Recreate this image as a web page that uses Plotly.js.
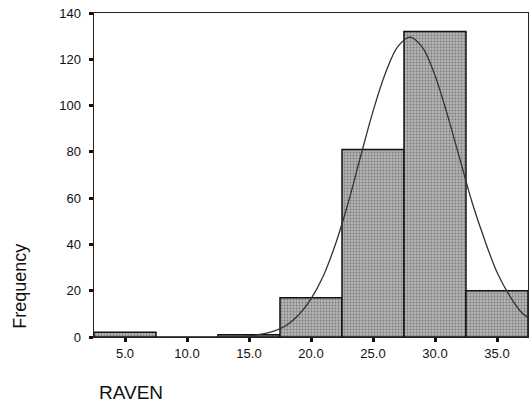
<!DOCTYPE html>
<html>
<head>
<meta charset="utf-8">
<script src="https://cdn.plot.ly/plotly-3.0.1.min.js"></script>
<style>html,body{margin:0;padding:0;background:#fff;}#chart{width:529px;height:404px;}</style>
</head>
<body>
<div id="chart"></div>
<script>
// Histogram bins (centers) and frequencies
var binCenters = [5, 10, 15, 20, 25, 30, 35];
var frequencies = [2, 0, 1, 17, 81, 132, 20];
// Normal curve
var curveX = [12.5, 13, 14, 15, 16, 17, 18, 19, 20, 21, 22, 23, 24, 25, 26, 27, 28, 29, 30, 31, 32, 33, 34, 35, 36, 37, 37.5];
var curveY = [0, 0.1, 0.2, 0.5, 1.2, 2.5, 5, 9.5, 16.5, 26.5, 40.5, 58, 78, 97.5, 114, 125.5, 129.6, 125, 113, 96, 77, 58, 42, 28, 18, 10.5, 8.5];
var xTicks = [5, 10, 15, 20, 25, 30, 35];
var xTickText = ["5.0", "10.0", "15.0", "20.0", "25.0", "30.0", "35.0"];
var yTicks = [0, 20, 40, 60, 80, 100, 120, 140];

var bars = {
  type: 'bar', x: binCenters, y: frequencies, width: 5,
  marker: {color: '#a6a6a6', line: {color: '#111', width: 1.5},
           pattern: {shape: '.', fgcolor: '#7a7a7a', bgcolor: '#b4b4b4', size: 3, solidity: 0.3}},
  hoverinfo: 'skip'
};
var curve = {
  type: 'scatter', mode: 'lines', x: curveX, y: curveY,
  line: {color: '#333', width: 1.3, shape: 'spline'}, hoverinfo: 'skip'
};
var FAM = 'Liberation Sans, Arial, sans-serif';
var layout = {
  width: 529, height: 404,
  margin: {l: 94, r: 1, t: 13, b: 67},
  paper_bgcolor: '#fff', plot_bgcolor: '#fff',
  showlegend: false, bargap: 0,
  font: {family: FAM, color: '#111'},
  xaxis: {
    range: [2.5, 37.5], tickvals: xTicks, ticktext: xTickText,
    ticks: 'outside', ticklen: 4, tickwidth: 3, tickcolor: '#111',
    showline: true, linecolor: '#222', linewidth: 1.2, mirror: true,
    showgrid: false, zeroline: false, fixedrange: true,
    tickfont: {family: FAM, size: 13, color: '#111'}
  },
  yaxis: {
    range: [0, 140], tickvals: yTicks,
    ticks: 'outside', ticklen: 4, tickwidth: 3, tickcolor: '#111',
    ticklabelstandoff: 5,
    showline: true, linecolor: '#222', linewidth: 1.5, mirror: true,
    showgrid: false, zeroline: false, fixedrange: true,
    tickfont: {family: FAM, size: 13, color: '#111'}
  },
  annotations: [
    {text: 'Frequency', xref: 'paper', yref: 'paper', x: -0.170, y: 0.156, xanchor: 'center', yanchor: 'middle',
     textangle: -90, showarrow: false, font: {family: FAM, size: 18, color: '#111'}},
    {text: 'RAVEN', xref: 'paper', yref: 'paper', x: 0.006, y: -0.171, xanchor: 'left', yanchor: 'middle',
     showarrow: false, font: {family: FAM, size: 19, color: '#111'}}
  ]
};
Plotly.newPlot('chart', [bars, curve], layout, {displayModeBar: false, staticPlot: true});
</script>
</body>
</html>
